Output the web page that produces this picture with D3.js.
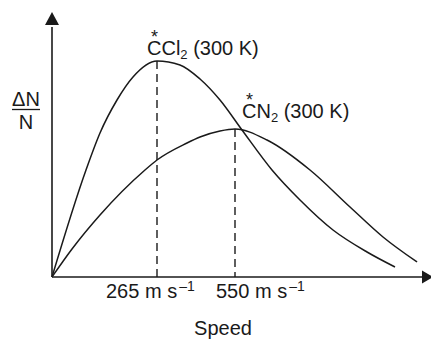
<!DOCTYPE html>
<html>
<head>
<meta charset="utf-8">
<script src="https://cdn.jsdelivr.net/npm/d3@7"></script>
<style>
  html, body { margin: 0; padding: 0; background: #fff; }
  text { font-family: "Liberation Sans", Arial, Helvetica, sans-serif; fill: #1a1a1a; }
</style>
</head>
<body>
<script>
// ---- data (speed in relative drawing units, ΔN/N in relative units) ----
const cclSpeed = [0, 34, 48, 65, 81, 105, 128, 148, 168, 190, 220, 248, 281, 315, 343];
const cclFrac  = [0, 107, 144, 177, 200, 216, 212, 198, 177, 147, 107, 77, 47, 25, 10];
const cnSpeed  = [0, 20, 48, 93, 105, 135, 148, 168, 183, 215, 258, 298, 331, 365];
const cnFrac   = [0, 28, 62, 107, 117, 134, 140, 146, 148, 137, 107, 70, 40, 15];
const peakSpeed = [105, 183];
const peakFrac  = [216, 148];
const tickLabels = ["265", "550"];
const seriesNames = [["C", "Cl", "2"], ["C", "N", "2"]];
const tempLabel = "(300 K)";

const W = 431, H = 339;
const svg = d3.select("body").append("svg").attr("width", W).attr("height", H);

const x = d3.scaleLinear().domain([0, 379]).range([52, 431]);
const y = d3.scaleLinear().domain([0, 265]).range([277, 12]);
const ink = "#1a1a1a";

// axes with arrows
svg.append("line").attr("x1", x(0)).attr("y1", y(0)).attr("x2", x(0)).attr("y2", y(250))
  .attr("stroke", ink).attr("stroke-width", 1.6);
svg.append("path")
  .attr("d", `M${x(0)},${y(265)} L${x(0) - 7},${y(252)} L${x(0) + 7},${y(252)} Z`)
  .attr("fill", ink);
svg.append("line").attr("x1", x(0)).attr("y1", y(0)).attr("x2", x(372)).attr("y2", y(0))
  .attr("stroke", ink).attr("stroke-width", 1.6);
svg.append("path")
  .attr("d", `M${x(381)},${y(0)} L${x(370)},${y(0) - 6.5} L${x(370)},${y(0) + 6.5} Z`)
  .attr("fill", ink);

// curves
const line = d3.line().x(d => x(d[0])).y(d => y(d[1])).curve(d3.curveMonotoneX);
const cclData = cclSpeed.map((s, i) => [s, cclFrac[i]]);
const cnData = cnSpeed.map((s, i) => [s, cnFrac[i]]);
[cclData, cnData].forEach(data => {
  svg.append("path").attr("d", line(data)).attr("fill", "none")
    .attr("stroke", ink).attr("stroke-width", 1.5);
});

// dashed drop lines
peakSpeed.forEach((s, i) => {
  svg.append("line").attr("x1", x(s)).attr("x2", x(s))
    .attr("y1", y(peakFrac[i])).attr("y2", y(0))
    .attr("stroke", ink).attr("stroke-width", 1.4).attr("stroke-dasharray", "8,5");
});

// tick labels
const tickDx = [-51, -19];
peakSpeed.forEach((s, i) => {
  const t = svg.append("text").attr("x", x(s) + tickDx[i]).attr("y", 298)
    .attr("font-size", 20);
  t.append("tspan").text(tickLabels[i] + " m s");
  t.append("tspan").attr("font-size", 14).attr("dx", 2).attr("dy", -7).text("\u20131");
});

// x-axis title
svg.append("text").attr("x", 223).attr("y", 335).attr("text-anchor", "middle")
  .attr("font-size", 20).text("Speed");

// y-axis title (fraction)
svg.append("text").attr("x", 26).attr("y", 106).attr("text-anchor", "middle")
  .attr("font-size", 20).text("\u0394N");
svg.append("line").attr("x1", 12).attr("x2", 40).attr("y1", 109.5).attr("y2", 109.5)
  .attr("stroke", ink).attr("stroke-width", 1.3);
svg.append("text").attr("x", 26).attr("y", 129).attr("text-anchor", "middle")
  .attr("font-size", 20).text("N");

// series labels (asterisk placed over the first C within the same text)
const labelPos = [[147, 55], [242, 118]];
seriesNames.forEach((parts, i) => {
  const [lx, ly] = labelPos[i];
  const t = svg.append("text").attr("x", lx).attr("y", ly).attr("font-size", 20);
  t.append("tspan").text(parts[0]);
  t.append("tspan").attr("font-size", 18).attr("dx", -10.4).attr("dy", -12.5).text("*");
  t.append("tspan").attr("dx", 3.4).attr("dy", 12.5).text(parts[1]);
  t.append("tspan").attr("font-size", 13).attr("dy", 4).text(parts[2]);
  t.append("tspan").attr("dy", -4).text(" " + tempLabel);
});
</script>
</body>
</html>
